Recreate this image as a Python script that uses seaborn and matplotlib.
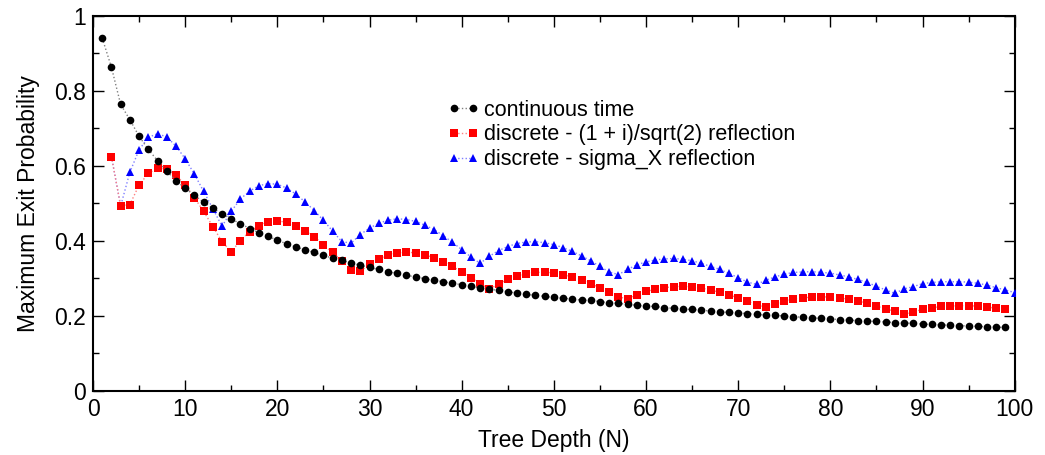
import numpy as np
import pandas as pd
import matplotlib
matplotlib.use("Agg")
import matplotlib.pyplot as plt
import seaborn as sns
from matplotlib.ticker import MultipleLocator

# values
depth_cont = list(range(1, 100))
prob_cont = [
    0.941, 0.863, 0.764, 0.723, 0.679, 0.644, 0.614, 0.586, 0.561, 0.540,
    0.522, 0.503, 0.487, 0.472, 0.458, 0.446, 0.433, 0.422, 0.412, 0.402,
    0.392, 0.384, 0.376, 0.369, 0.361, 0.354, 0.348, 0.341, 0.335, 0.329,
    0.324, 0.318, 0.313, 0.308, 0.304, 0.299, 0.295, 0.291, 0.287, 0.283,
    0.279, 0.275, 0.271, 0.268, 0.264, 0.261, 0.257, 0.255, 0.252, 0.249,
    0.247, 0.245, 0.242, 0.241, 0.238, 0.235, 0.233, 0.231, 0.228, 0.226,
    0.225, 0.222, 0.220, 0.218, 0.217, 0.215, 0.213, 0.211, 0.209, 0.208,
    0.206, 0.204, 0.202, 0.201, 0.200, 0.198, 0.196, 0.195, 0.193, 0.192,
    0.190, 0.189, 0.187, 0.186, 0.185, 0.184, 0.182, 0.181, 0.180, 0.178,
    0.177, 0.176, 0.175, 0.174, 0.173, 0.172, 0.171, 0.170, 0.169,
]

depth_hadamard = list(range(2, 100))
prob_hadamard = [
    0.625, 0.493, 0.497, 0.549, 0.580, 0.594, 0.591, 0.575, 0.550,
    0.515, 0.479, 0.438, 0.398, 0.371, 0.401, 0.425, 0.441, 0.451, 0.453,
    0.450, 0.440, 0.427, 0.411, 0.390, 0.369, 0.346, 0.323, 0.319, 0.338,
    0.352, 0.362, 0.368, 0.370, 0.368, 0.363, 0.355, 0.344, 0.332, 0.317,
    0.302, 0.286, 0.271, 0.285, 0.297, 0.307, 0.312, 0.316, 0.316, 0.315,
    0.310, 0.304, 0.296, 0.286, 0.275, 0.263, 0.251, 0.245, 0.256, 0.265,
    0.271, 0.275, 0.278, 0.279, 0.277, 0.274, 0.269, 0.263, 0.256, 0.248,
    0.240, 0.229, 0.223, 0.232, 0.239, 0.245, 0.248, 0.250, 0.251, 0.250,
    0.248, 0.244, 0.240, 0.233, 0.226, 0.219, 0.212, 0.204, 0.211, 0.217,
    0.221, 0.225, 0.226, 0.227, 0.227, 0.226, 0.224, 0.220, 0.217,
]

depth_sigma = list(range(2, 101))
prob_sigma = [
    0.625, 0.493, 0.583, 0.643, 0.676, 0.686, 0.677, 0.653, 0.619,
    0.578, 0.532, 0.486, 0.439, 0.479, 0.512, 0.533, 0.547, 0.553, 0.551,
    0.541, 0.525, 0.504, 0.481, 0.455, 0.426, 0.398, 0.394, 0.417, 0.434,
    0.447, 0.455, 0.459, 0.457, 0.452, 0.442, 0.430, 0.414, 0.396, 0.377,
    0.357, 0.340, 0.359, 0.374, 0.385, 0.393, 0.397, 0.398, 0.395, 0.390,
    0.382, 0.372, 0.360, 0.347, 0.332, 0.317, 0.310, 0.324, 0.336, 0.344,
    0.349, 0.352, 0.353, 0.351, 0.347, 0.340, 0.332, 0.324, 0.313, 0.302,
    0.290, 0.284, 0.295, 0.304, 0.311, 0.316, 0.317, 0.318, 0.316, 0.314,
    0.309, 0.304, 0.297, 0.289, 0.279, 0.269, 0.260, 0.272, 0.278, 0.286,
    0.289, 0.291, 0.291, 0.291, 0.290, 0.287, 0.282, 0.275, 0.269, 0.262,
]

labels = [
    "continuous time",
    "discrete - (1 + i)/sqrt(2) reflection",
    "discrete - sigma_X reflection",
]

sns.set_style("ticks")
plt.rcParams["font.family"] = ["Liberation Sans", "DejaVu Sans"]
plt.rcParams["text.color"] = "black"
plt.rcParams["axes.labelcolor"] = "black"
plt.rcParams["xtick.color"] = "black"
plt.rcParams["ytick.color"] = "black"

fig = plt.figure(figsize=(10.45, 4.55), dpi=100)
ax = fig.add_axes([0.089, 0.141, 0.882, 0.824])

# blue first so red/black end up on top
sns.lineplot(
    x=depth_sigma, y=prob_sigma, ax=ax,
    color="#7f7fff", linestyle=":", linewidth=1.0,
    marker="^", markersize=6, markerfacecolor="#0000ff",
    markeredgecolor="#0000ff", markeredgewidth=0,
    label=labels[2], zorder=3
)

sns.lineplot(
    x=depth_hadamard, y=prob_hadamard, ax=ax,
    color="#ff8080", linestyle=":", linewidth=1.0,
    marker="s", markersize=5.5, markerfacecolor="#ff0000",
    markeredgecolor="#ff0000", markeredgewidth=0,
    label=labels[1], zorder=4
)

sns.lineplot(
    x=depth_cont, y=prob_cont, ax=ax,
    color="#808080", linestyle=":", linewidth=1.0,
    marker="o", markersize=5.5, markerfacecolor="black",
    markeredgecolor="black", markeredgewidth=0,
    label=labels[0], zorder=5
)

ax.set_xlim(0, 100)
ax.set_ylim(0, 1)
ax.xaxis.set_major_locator(MultipleLocator(10))
ax.xaxis.set_minor_locator(MultipleLocator(5))
ax.yaxis.set_minor_locator(MultipleLocator(0.1))
ax.set_yticks([0, 0.2, 0.4, 0.6, 0.8, 1.0])
ax.set_yticklabels(["0", "0.2", "0.4", "0.6", "0.8", "1"])

ax.tick_params(which="both", direction="in", top=True, right=True,
               labelsize=16.5, color="black", labelcolor="black", pad=5)
ax.tick_params(which="major", length=8, width=1)
ax.tick_params(which="minor", length=4, width=1)
for sp in ax.spines.values():
    sp.set_visible(True)
    sp.set_linewidth(1.5)
    sp.set_color("black")

ax.set_xlabel("Tree Depth (N)", fontsize=16.5, labelpad=6, color="black")
ax.set_ylabel("Maximum Exit Probability", fontsize=16.5, labelpad=10,
              color="black")

handles, labs = ax.get_legend_handles_labels()
order = [labs.index(l) for l in labels]
leg = ax.legend(
    [handles[i] for i in order], [labs[i] for i in order],
    loc="upper left", bbox_to_anchor=(0.375, 0.80),
    frameon=False, fontsize=15.5, numpoints=2,
    handlelength=1.5, handletextpad=0.2, labelspacing=0.18,
    borderaxespad=0
)
for t in leg.get_texts():
    t.set_color("black")

fig.savefig("out.png", dpi=100)
